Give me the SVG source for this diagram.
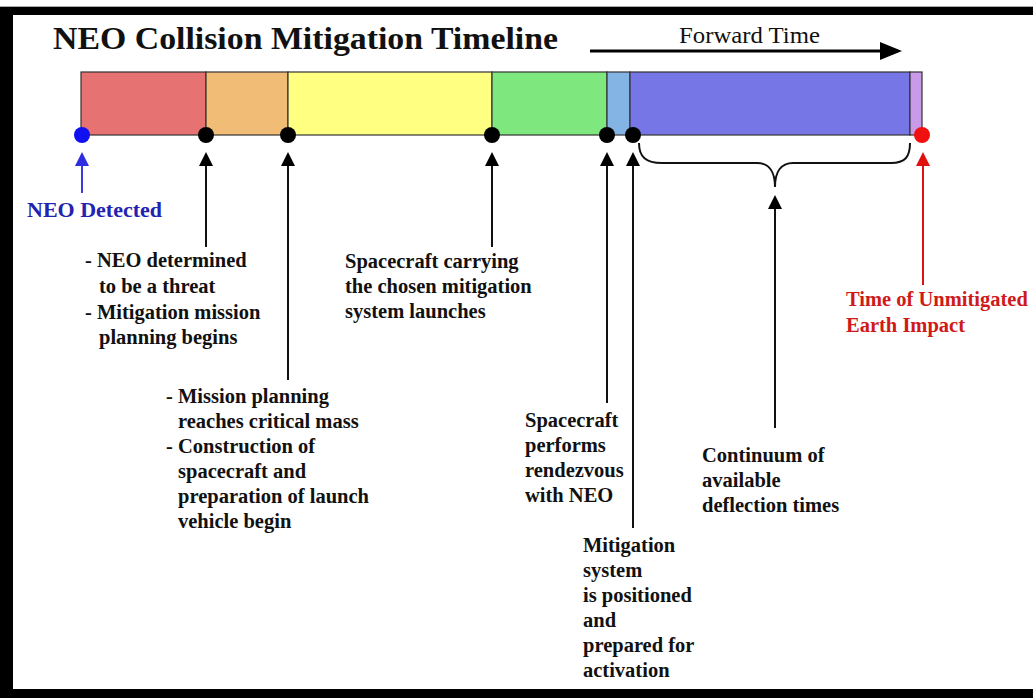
<svg xmlns="http://www.w3.org/2000/svg" width="1033" height="698" viewBox="0 0 1033 698">
  <style>
    .lbl { font-family: "Liberation Serif", "Tinos", "Times New Roman", "DejaVu Serif", serif; font-weight: bold; font-size: 20.5px; fill: #111; }
    .ttl { font-family: "Liberation Serif", "Tinos", "Times New Roman", "DejaVu Serif", serif; font-weight: bold; font-size: 31px; fill: #111; }
    .fwd { font-family: "Liberation Serif", "Tinos", "Times New Roman", "DejaVu Serif", serif; font-size: 23px; fill: #111; }
    .blue { fill: #2323B0; font-size: 22px; }
    .red { fill: #D01A1A; }
    .seg { stroke: #333; stroke-width: 1.2; }
    .conn { stroke: #111; stroke-width: 2; fill: none; }
    .dot { fill: #000; }
  </style>
  <defs>
    <marker id="ah" viewBox="0 0 14 14" refX="10" refY="7" markerWidth="14" markerHeight="14" markerUnits="userSpaceOnUse" orient="auto">
      <path d="M0,0 L14,7 L0,14 z" fill="#000"/>
    </marker>
    <marker id="ahBlue" viewBox="0 0 14 14" refX="10" refY="7" markerWidth="14" markerHeight="14" markerUnits="userSpaceOnUse" orient="auto">
      <path d="M0,0 L14,7 L0,14 z" fill="#2E2EE0"/>
    </marker>
    <marker id="ahRed" viewBox="0 0 14 14" refX="10" refY="7" markerWidth="14" markerHeight="14" markerUnits="userSpaceOnUse" orient="auto">
      <path d="M0,0 L14,7 L0,14 z" fill="#E01010"/>
    </marker>
    <marker id="ahBig" viewBox="0 0 22 18" refX="18" refY="9" markerWidth="22" markerHeight="18" markerUnits="userSpaceOnUse" orient="auto">
      <path d="M0,0 L22,9 L0,18 z" fill="#000"/>
    </marker>
  </defs>

  <rect x="0" y="0" width="1033" height="698" fill="#fff"/>
  <g id="frame">
    <rect x="0" y="6" width="1033" height="1" fill="#aaa"/>
    <rect x="0" y="7" width="1033" height="8" fill="#000"/>
    <rect x="0" y="7" width="13" height="691" fill="#000"/>
    <rect x="0" y="689" width="1033" height="9" fill="#000"/>
  </g>

  <g id="title">
    <text class="ttl" x="53" y="49" textLength="505" lengthAdjust="spacingAndGlyphs">NEO Collision Mitigation Timeline</text>
  </g>

  <g id="forward-time">
    <text class="fwd" x="679" y="43" textLength="141" lengthAdjust="spacingAndGlyphs">Forward Time</text>
    <line x1="590" y1="51" x2="898" y2="51" stroke="#000" stroke-width="3" marker-end="url(#ahBig)"/>
  </g>

  <g id="timeline-bar">
    <rect class="seg" x="81" y="72" width="125" height="63" fill="#E67272"/>
    <rect class="seg" x="206" y="72" width="82" height="63" fill="#F0BC76"/>
    <rect class="seg" x="288" y="72" width="204" height="63" fill="#FFFF82"/>
    <rect class="seg" x="492" y="72" width="115" height="63" fill="#7EE87E"/>
    <rect class="seg" x="607" y="72" width="23" height="63" fill="#84B4E4"/>
    <rect class="seg" x="630" y="72" width="280" height="63" fill="#7676E6"/>
    <rect class="seg" x="910" y="72" width="12" height="63" fill="#C89AE8"/>
  </g>

  <g id="connectors">
    <line x1="82" y1="193" x2="82" y2="156" stroke="#3A3AE0" stroke-width="2" marker-end="url(#ahBlue)"/>
    <line class="conn" x1="206" y1="247" x2="206" y2="156" marker-end="url(#ah)"/>
    <line class="conn" x1="288" y1="380" x2="288" y2="156" marker-end="url(#ah)"/>
    <line class="conn" x1="492" y1="247" x2="492" y2="156" marker-end="url(#ah)"/>
    <line class="conn" x1="607" y1="403" x2="607" y2="156" marker-end="url(#ah)"/>
    <line class="conn" x1="633" y1="528" x2="633" y2="156" marker-end="url(#ah)"/>
    <line class="conn" x1="775" y1="428" x2="775" y2="199" marker-end="url(#ah)"/>
    <line x1="923" y1="285" x2="923" y2="156" stroke="#E01010" stroke-width="2" marker-end="url(#ahRed)"/>
    <path class="conn" d="M639,143 C639,157 646,163 662,163 L757,163 C769,163 775,172 775,187 C775,172 781,163 793,163 L891,163 C905,163 910,157 910,143"/>
  </g>

  <g id="neo-detected">
    <circle cx="82" cy="135" r="8" fill="#1010F0"/>
    <text class="lbl blue" x="27" y="217">NEO Detected</text>
  </g>

  <g id="threat-determined">
    <circle class="dot" cx="206" cy="135" r="8"/>
    <text class="lbl" x="85" y="267">- NEO determined</text>
    <text class="lbl" x="99" y="293">to be a threat</text>
    <text class="lbl" x="85" y="319">- Mitigation mission</text>
    <text class="lbl" x="99" y="344">planning begins</text>
  </g>

  <g id="construction">
    <circle class="dot" cx="288" cy="135" r="8"/>
    <text class="lbl" x="166" y="403">- Mission planning</text>
    <text class="lbl" x="178" y="428">reaches critical mass</text>
    <text class="lbl" x="166" y="453">- Construction of</text>
    <text class="lbl" x="178" y="478">spacecraft and</text>
    <text class="lbl" x="178" y="503">preparation of launch</text>
    <text class="lbl" x="178" y="528">vehicle begin</text>
  </g>

  <g id="launch">
    <circle class="dot" cx="492" cy="135" r="8"/>
    <text class="lbl" x="345" y="268">Spacecraft carrying</text>
    <text class="lbl" x="345" y="293">the chosen mitigation</text>
    <text class="lbl" x="345" y="318">system launches</text>
  </g>

  <g id="rendezvous">
    <circle class="dot" cx="607" cy="135" r="8"/>
    <text class="lbl" x="525" y="427">Spacecraft</text>
    <text class="lbl" x="525" y="452">performs</text>
    <text class="lbl" x="525" y="477">rendezvous</text>
    <text class="lbl" x="525" y="502">with NEO</text>
  </g>

  <g id="positioned">
    <circle class="dot" cx="633" cy="135" r="8"/>
    <text class="lbl" x="583" y="552">Mitigation</text>
    <text class="lbl" x="583" y="577">system</text>
    <text class="lbl" x="583" y="602">is positioned</text>
    <text class="lbl" x="583" y="627">and</text>
    <text class="lbl" x="583" y="652">prepared for</text>
    <text class="lbl" x="583" y="677">activation</text>
  </g>

  <g id="continuum">
    <text class="lbl" x="702" y="462">Continuum of</text>
    <text class="lbl" x="702" y="487">available</text>
    <text class="lbl" x="702" y="512">deflection times</text>
  </g>

  <g id="earth-impact">
    <circle cx="922" cy="135" r="8" fill="#F01010"/>
    <text class="lbl red" x="846" y="306">Time of Unmitigated</text>
    <text class="lbl red" x="846" y="332">Earth Impact</text>
  </g>
</svg>
